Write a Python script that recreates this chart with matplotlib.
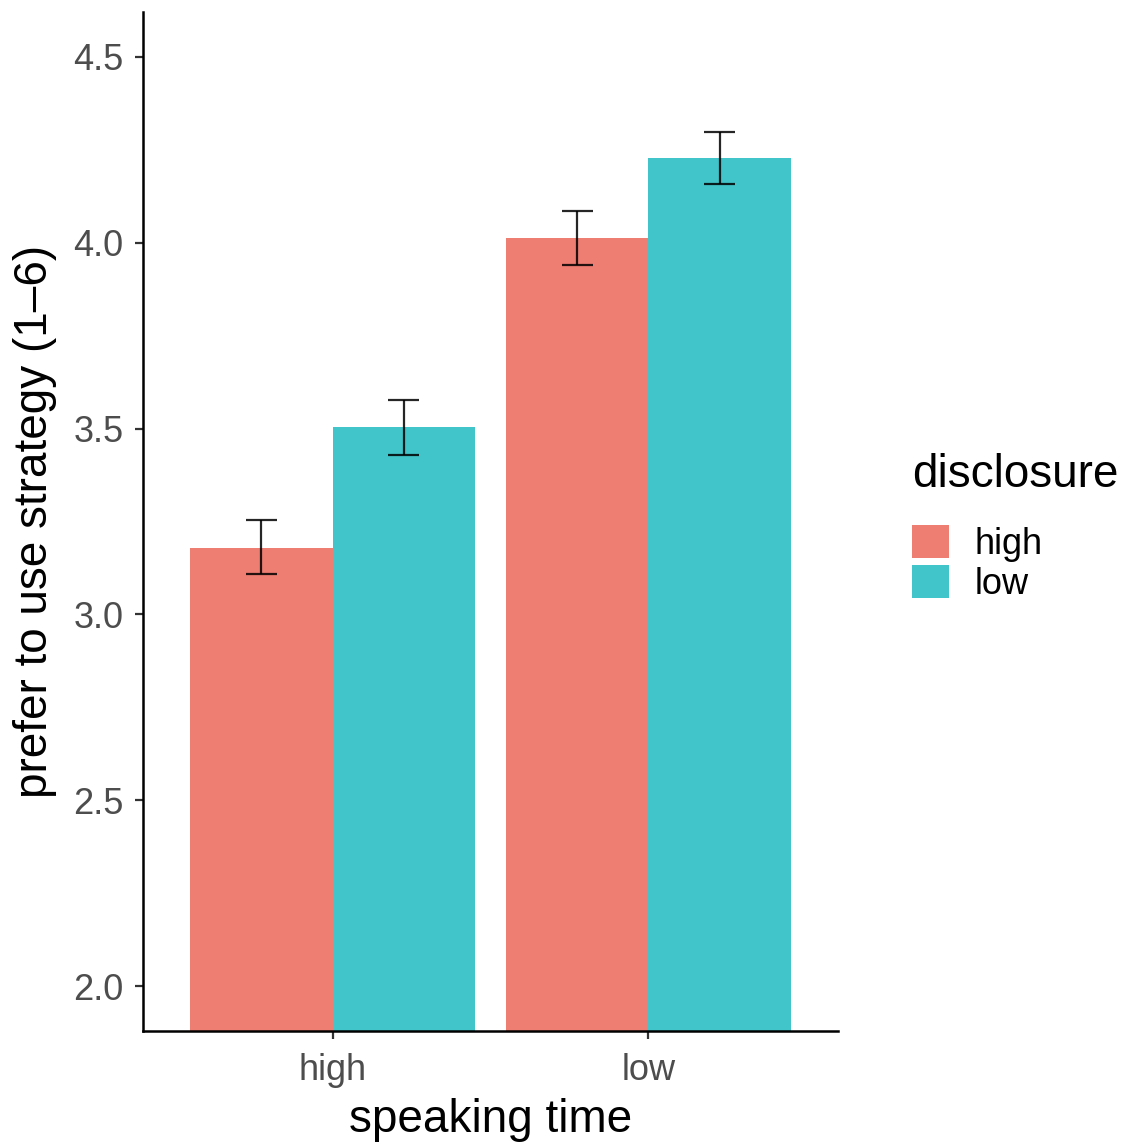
import numpy as np
import matplotlib.pyplot as plt
from matplotlib.patches import Patch

plt.rcParams['font.family'] = ['Liberation Sans', 'DejaVu Sans']

# data
speaking_time = ["high", "low"]
disclosure = ["high", "low"]
means = {
    "high": [3.180, 4.013],   # disclosure = high
    "low": [3.503, 4.228],    # disclosure = low
}
err_lo = {
    "high": [3.108, 3.941],
    "low": [3.430, 4.159],
}
err_hi = {
    "high": [3.255, 4.086],
    "low": [3.578, 4.298],
}
colors = {"high": "#EE7D72", "low": "#42C5CA"}
y_ticks = [2.0, 2.5, 3.0, 3.5, 4.0, 4.5]

fig = plt.figure(figsize=(11.29, 11.46), dpi=100)
ax = fig.add_axes([143 / 1129, 1 - 1031 / 1146, 695 / 1129, 1019 / 1146])

x = np.arange(1, len(speaking_time) + 1)
width = 0.45
offsets = {"high": -width / 2, "low": width / 2}
ymin = 1.879

for d in disclosure:
    xs = x + offsets[d]
    vals = np.array(means[d])
    ax.bar(xs, vals - ymin, bottom=ymin, width=width, color=colors[d],
           linewidth=0, zorder=2)
    lo = np.array(err_lo[d])
    hi = np.array(err_hi[d])
    ax.vlines(xs, lo, hi, color="black", linewidth=1.6, alpha=0.85, zorder=3)
    ax.hlines(lo, xs - 0.05, xs + 0.05, color="black", linewidth=1.6, alpha=0.85, zorder=3)
    ax.hlines(hi, xs - 0.05, xs + 0.05, color="black", linewidth=1.6, alpha=0.85, zorder=3)

ax.set_xlim(0.4, 2.6)
ax.set_ylim(ymin, 4.621)
ax.set_xticks(x)
ax.set_xticklabels(speaking_time)
ax.set_yticks(y_ticks)
ax.set_yticklabels([f"{t:.1f}" for t in y_ticks])

for s in ["top", "right"]:
    ax.spines[s].set_visible(False)
for s in ["left", "bottom"]:
    ax.spines[s].set_linewidth(1.8)
    ax.spines[s].set_color("black")

ax.tick_params(axis="both", length=6, width=1.6, color="#333333",
               labelsize=26, labelcolor="#4D4D4D")
ax.tick_params(axis="x", pad=10)
ax.tick_params(axis="y", pad=8)

ax.set_xlabel("speaking time", fontsize=33, labelpad=7)
ax.set_ylabel("prefer to use strategy (1\u20136)", fontsize=33, labelpad=12)

handles = [Patch(facecolor=colors[d], edgecolor="none", label=d) for d in disclosure]
leg = fig.legend(handles=handles, title="disclosure", loc="upper left",
                 bbox_to_anchor=(905 / 1129, 1 - 446 / 1146), frameon=False,
                 fontsize=26, title_fontsize=33, handlelength=1.03, handleheight=1.03,
                 handletextpad=0.7, labelspacing=0.08, borderaxespad=0,
                 borderpad=0.2)
leg._legend_box.align = "left"
leg._legend_box.sep = 20

fig.savefig("out.png", dpi=100)
